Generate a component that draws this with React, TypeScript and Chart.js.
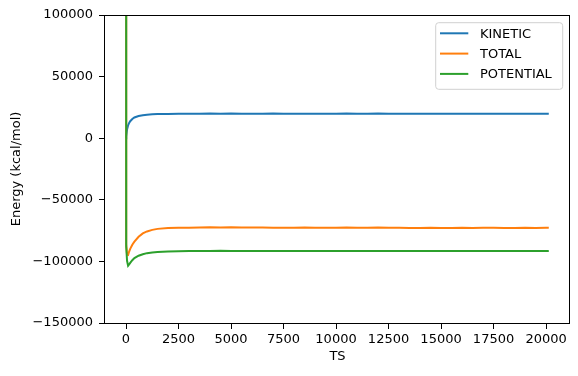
import React, { useEffect, useRef } from 'react';
import { Chart, registerables } from 'chart.js';

Chart.register(...registerables);

const TS = [0, 10, 50, 100, 150, 200, 300, 400, 600, 800, 1000, 1250, 1500, 2000, 2500, 3000, 3500, 4000, 4500, 5000, 5500, 6000, 6500, 7000, 7500, 8000, 8500, 9000, 9500, 10000, 10500, 11000, 11500, 12000, 12500, 13000, 13500, 14000, 14500, 15000, 15500, 16000, 16500, 17000, 17500, 18000, 18500, 19000, 19500, 20000, 20130];

const KINETIC = [0, 1500, 7000, 10500, 12400, 13800, 15600, 16800, 18000, 18700, 19100, 19400, 19600,
  19700, 19800, 19750, 19900, 20000, 19850, 19950, 19800, 19900, 19850, 19950, 19800, 19900, 19850, 19750, 19900, 19800, 19950, 19850, 19900, 20000, 19850, 19800, 19900, 19750, 19850, 19800, 19900, 19850, 19750, 19900, 19800, 19850, 19900, 19800, 19750, 19900, 19850];

const TOTAL = [2000000, -86000, -94500, -94800, -92000, -89800, -86500, -84000, -80000, -77300, -75700, -74400, -73600,
  -72900, -72700, -72600, -72400, -72300, -72400, -72300, -72400, -72500, -72500, -72600, -72600, -72700, -72500, -72700, -72600, -72700, -72500, -72600, -72700, -72500, -72700, -72700, -72800, -72800, -72700, -72800, -72800, -72700, -72800, -72600, -72700, -72800, -72800, -72700, -72800, -72600, -72700];

const POTENTIAL = [2000000, -88000, -99500, -103500, -102500, -101200, -99000, -97300, -95400, -94200, -93300, -92700, -92300,
  -91900, -91700, -91600, -91500, -91600, -91400, -91500, -91500, -91600, -91500, -91600, -91500, -91600, -91500, -91500, -91600, -91500, -91600, -91500, -91600, -91500, -91600, -91500, -91600, -91600, -91500, -91600, -91500, -91600, -91500, -91500, -91600, -91500, -91600, -91500, -91500, -91600, -91500];

const SERIES_LABELS = ['KINETIC', 'TOTAL', 'POTENTIAL'];
const SERIES_COLORS = ['#1f77b4', '#ff7f0e', '#2ca02c'];
const X_TICKS = [0, 2500, 5000, 7500, 10000, 12500, 15000, 17500, 20000];
const Y_TICKS = [-150000, -100000, -50000, 0, 50000, 100000];
const X_TITLE = 'TS';
const Y_TITLE = 'Energy (kcal/mol)';

const FONT = 'DejaVu Sans';
const fmt = (v: number) => (v < 0 ? '\u2212' + Math.abs(v) : String(v));

const framePlugin = {
  id: 'frame',
  afterDatasetsDraw(chart: any) {
    const { ctx, chartArea: a } = chart;
    ctx.save();
    ctx.strokeStyle = '#000';
    ctx.lineWidth = 1;
    ctx.strokeRect(Math.round(a.left) - 0.5, Math.round(a.top) + 0.5, Math.round(a.right - a.left), Math.round(a.bottom - a.top));
    ctx.restore();
  },
};

const legendPlugin = {
  id: 'mplLegend',
  afterDraw(chart: any) {
    const { ctx, chartArea: a } = chart;
    const ds = chart.data.datasets;
    ctx.save();
    ctx.font = `13px ${FONT}`;
    const right = a.right - 7.3;
    const width = 127;
    const left = right - width;
    const top = a.top + 7.7;
    const rowH = 20.3;
    const height = 66.6;
    const r = 3;
    ctx.beginPath();
    ctx.moveTo(left + r, top);
    ctx.lineTo(right - r, top);
    ctx.arcTo(right, top, right, top + r, r);
    ctx.lineTo(right, top + height - r);
    ctx.arcTo(right, top + height, right - r, top + height, r);
    ctx.lineTo(left + r, top + height);
    ctx.arcTo(left, top + height, left, top + height - r, r);
    ctx.lineTo(left, top + r);
    ctx.arcTo(left, top, left + r, top, r);
    ctx.closePath();
    ctx.fillStyle = 'rgba(255,255,255,0.8)';
    ctx.fill();
    ctx.strokeStyle = '#d0d0d0';
    ctx.lineWidth = 1;
    ctx.stroke();
    ds.forEach((d: any, i: number) => {
      const y = top + 10.6 + i * rowH;
      ctx.strokeStyle = d.borderColor;
      ctx.lineWidth = 2;
      ctx.beginPath();
      ctx.moveTo(left + 4.3, y);
      ctx.lineTo(left + 4.3 + 28.3, y);
      ctx.stroke();
      ctx.fillStyle = '#000';
      ctx.textBaseline = 'middle';
      ctx.textAlign = 'left';
      ctx.fillText(d.label, left + 44.3, y + 1);
    });
    ctx.restore();
  },
};

export default function App() {
  const ref = useRef<HTMLCanvasElement | null>(null);
  useEffect(() => {
    if (!ref.current) return;
    Chart.defaults.font.family = FONT;
    Chart.defaults.font.size = 13;
    Chart.defaults.color = '#000';
    const series = [KINETIC, TOTAL, POTENTIAL];
    const chart = new Chart(ref.current, {
      type: 'line',
      data: {
        datasets: series.map((vals, i) => ({
          label: SERIES_LABELS[i],
          data: TS.map((x, j) => ({ x, y: vals[j] })),
          borderColor: SERIES_COLORS[i],
          backgroundColor: SERIES_COLORS[i],
          borderWidth: 2,
          pointRadius: 0,
          tension: 0,
          fill: false,
          order: 3 - i,
        })),
      },
      options: {
        animation: false,
        responsive: true,
        maintainAspectRatio: false,
        layout: { padding: { left: 0, top: 15, right: 8, bottom: 0 } },
        plugins: { legend: { display: false }, tooltip: { enabled: false } },
        scales: {
          x: {
            type: 'linear',
            min: -1000,
            max: 21140,
            border: { display: false },
            grid: { display: true, drawOnChartArea: false, drawTicks: true, tickLength: 6, color: '#000' },
            ticks: { autoSkip: false, maxRotation: 0, padding: 3, callback: (v: any) => fmt(Number(v)) },
            afterBuildTicks: (s: any) => { s.ticks = X_TICKS.map((v) => ({ value: v })); },
            afterFit: (s: any) => { s.height = 53; },
            title: { display: true, text: X_TITLE, font: { size: 13 }, padding: { top: 0, bottom: 12 } },
          },
          y: {
            type: 'linear',
            min: -150000,
            max: 100000,
            border: { display: false },
            grid: { display: true, drawOnChartArea: false, drawTicks: true, tickLength: 6, color: '#000' },
            ticks: { autoSkip: false, padding: 6, callback: (v: any) => fmt(Number(v)) },
            afterBuildTicks: (s: any) => { s.ticks = Y_TICKS.map((v) => ({ value: v })); },
            afterFit: (s: any) => { s.width = 105; },
            title: { display: true, text: Y_TITLE, font: { size: 13 }, padding: { top: 9, bottom: 0 } },
          },
        },
      },
      plugins: [framePlugin, legendPlugin],
    });
    return () => chart.destroy();
  }, []);
  return (
    <div style={{ position: 'fixed', left: 0, top: 0, width: 578, height: 376, background: '#fff' }}>
      <canvas ref={ref} />
    </div>
  );
}
